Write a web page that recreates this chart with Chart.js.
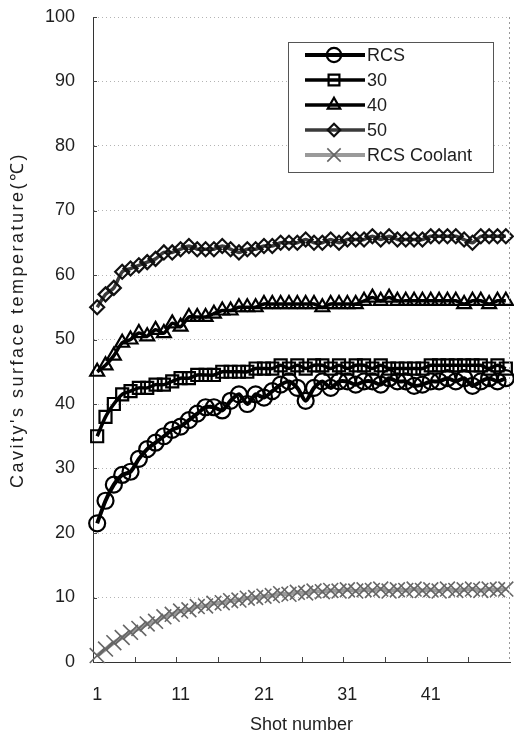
<!DOCTYPE html>
<html>
<head>
<meta charset="utf-8">
<script src="https://cdn.jsdelivr.net/npm/chart.js@4/dist/chart.umd.min.js"></script>
<style>
html,body{margin:0;padding:0;background:#fff;}
#wrap{width:514px;height:740px;}
</style>
</head>
<body>
<div id="wrap"><canvas id="c" width="514" height="740"></canvas></div>
<script>
const shots = Array.from({length: 50}, (_, i) => String(i + 1));
const xTickLabels = ['1', '11', '21', '31', '41'];
const yTicks = [0, 10, 20, 30, 40, 50, 60, 70, 80, 90, 100];
const seriesNames = ['RCS', '30', '40', '50', 'RCS Coolant'];
const yTitle = "Cavity's surface temperature(\u2103)";
const xTitle = 'Shot number';

const rcs = [21.5, 25, 27.5, 29, 29.5, 31.5, 33, 34, 35, 36,
  36.5, 37.5, 38.5, 39.5, 39.5, 39, 40.5, 41.5, 40, 41.5,
  41, 42, 43, 43.5, 42.5, 40.5, 42.5, 43.5, 42.5, 43.5,
  43.5, 43, 43.5, 43.5, 43, 44, 43.5, 43.5, 42.8, 43,
  43.5, 43.5, 44, 43.5, 44, 42.8, 43.5, 44, 43.5, 44];
const t30 = [35, 38, 40, 41.5, 42, 42.5, 42.5, 43, 43, 43.5,
  44, 44, 44.5, 44.5, 44.5, 45, 45, 45, 45, 45.5,
  45.5, 45.5, 46, 45.5, 46, 45.5, 46, 46, 45.5, 46,
  45.5, 46, 46, 45.5, 46, 45.5, 45.5, 45.5, 45.5, 45.5,
  46, 46, 46, 46, 46, 46, 46, 45.5, 46, 45.5];
const t40 = [45, 46, 47.5, 49.5, 50, 51, 50.5, 51.5, 51, 52.5,
  52, 53.5, 53.5, 53.5, 54, 54.5, 54.5, 55, 55, 55,
  55.5, 55.5, 55.5, 55.5, 55.5, 55.5, 55.5, 55, 55.5, 55.5,
  55.5, 55.5, 56, 56.5, 56, 56.5, 56, 56, 56, 56,
  56, 56, 56, 56, 55.5, 56, 56, 55.5, 56, 56];
const t50 = [55, 57, 58, 60.5, 61, 61.5, 62, 62.5, 63.5, 63.5,
  64, 64.5, 64, 64, 64, 64.5, 64, 63.5, 64, 64,
  64.5, 64.5, 65, 65, 65, 65.5, 65, 65, 65.5, 65,
  65.5, 65.5, 65.5, 66, 65.5, 66, 65.5, 65.5, 65.5, 65.5,
  66, 66, 66, 66, 65.5, 65, 66, 66, 66, 66];
const coolant = [1, 2, 3, 3.8, 4.6, 5.2, 5.9, 6.3, 7, 7.4,
  7.9, 8.1, 8.6, 8.7, 9.1, 9.2, 9.5, 9.6, 9.9, 10,
  10.2, 10.3, 10.6, 10.5, 10.8, 10.7, 11, 10.9, 11.1, 11,
  11.2, 11, 11.2, 11.1, 11.3, 11, 11.2, 11.1, 11.3, 11.1,
  11.2, 11, 11.3, 11.1, 11.2, 11.3, 11.1, 11.3, 11.2, 11.3];

const FONT = {family: '"Liberation Sans", Arial, Helvetica, sans-serif', size: 18};
const TXT = '#1e1e1e';
const NONE = 'rgba(0,0,0,0)';

function ds(label, data, lineColor, lw, ptColor, style, r, pbw) {
  return {
    label, data,
    borderColor: lineColor, borderWidth: lw,
    pointStyle: style, pointRadius: r, pointHoverRadius: r,
    pointBorderColor: ptColor, pointBackgroundColor: NONE, pointBorderWidth: pbw,
    backgroundColor: NONE, fill: false, tension: 0.25, clip: false
  };
}

const datasets = [
  ds(seriesNames[0], rcs, '#000', 4, '#000', 'circle', 8, 2.2),
  ds(seriesNames[1], t30, '#000', 3.5, '#000', 'rect', 8.5, 2.2),
  ds(seriesNames[2], t40, '#000', 3.5, '#000', 'triangle', 8, 2.2),
  ds(seriesNames[3], t50, '#3a3a3a', 3.5, '#111', 'rectRot', 7, 2.2),
  ds(seriesNames[4], coolant, '#9a9a9a', 4, '#666', 'crossRot', 10.5, 1.6)
];

const extras = {
  id: 'extras',
  afterDraw(chart) {
    const {ctx, chartArea: a, scales: {x, y}} = chart;
    ctx.save();
    // dotted right border
    ctx.strokeStyle = '#999';
    ctx.lineWidth = 1;
    ctx.setLineDash([2, 3]);
    ctx.beginPath();
    ctx.moveTo(a.right - 0.5, a.top);
    ctx.lineTo(a.right - 0.5, a.bottom);
    ctx.stroke();
    ctx.setLineDash([]);
    // inward ticks on y axis
    ctx.strokeStyle = '#444';
    yTicks.forEach(v => {
      const py = Math.round(y.getPixelForValue(v)) + 0.5;
      ctx.beginPath();
      ctx.moveTo(a.left, py);
      ctx.lineTo(a.left + 4, py);
      ctx.stroke();
    });
    // inward ticks on x axis every 5 shots
    const step = x.getPixelForValue(1) - x.getPixelForValue(0);
    for (let i = 0; i < shots.length; i += 5) {
      const px = Math.round(x.getPixelForValue(i) - step / 2) + 0.5;
      if (px <= a.left + 1) continue;
      ctx.beginPath();
      ctx.moveTo(px, a.bottom);
      ctx.lineTo(px, a.bottom - 5);
      ctx.stroke();
    }
    // y-axis title (letter-spaced, as in the scan)
    ctx.save();
    ctx.translate(18, 320);
    ctx.rotate(-Math.PI / 2);
    ctx.fillStyle = TXT;
    ctx.font = FONT.size + 'px ' + FONT.family;
    if ('letterSpacing' in ctx) ctx.letterSpacing = '2.5px';
    ctx.textAlign = 'center';
    ctx.textBaseline = 'middle';
    ctx.fillText(yTitle, 0, 0);
    ctx.restore();
    // legend
    const bx = 288, by = 42, bw = 205, bh = 130;
    ctx.fillStyle = '#fff';
    ctx.fillRect(bx, by, bw, bh);
    ctx.strokeStyle = '#555';
    ctx.lineWidth = 1;
    ctx.strokeRect(bx + 0.5, by + 0.5, bw, bh);
    const rowY = [55, 80, 105, 130, 155];
    const helpers = Chart.helpers;
    chart.data.datasets.forEach((d, i) => {
      const yy = rowY[i];
      ctx.strokeStyle = d.borderColor;
      ctx.lineWidth = d.borderWidth;
      ctx.beginPath();
      ctx.moveTo(305, yy);
      ctx.lineTo(365, yy);
      ctx.stroke();
      ctx.strokeStyle = d.pointBorderColor;
      ctx.fillStyle = NONE;
      ctx.lineWidth = d.pointBorderWidth;
      if (helpers && helpers.drawPoint) {
        helpers.drawPoint(ctx, {pointStyle: d.pointStyle, radius: d.pointRadius * 0.9, rotation: 0, borderWidth: d.pointBorderWidth}, 334, yy);
      }
      ctx.fillStyle = TXT;
      ctx.font = FONT.size + 'px ' + FONT.family;
      ctx.textAlign = 'left';
      ctx.textBaseline = 'middle';
      ctx.fillText(d.label, 367, yy + 1);
    });
    ctx.restore();
  }
};

new Chart(document.getElementById('c'), {
  type: 'line',
  data: {labels: shots, datasets},
  plugins: [extras],
  options: {
    responsive: false,
    animation: false,
    events: [],
    layout: {autoPadding: false, padding: {top: 17, right: 4, left: 0, bottom: 0}},
    plugins: {legend: {display: false}, tooltip: {enabled: false}},
    scales: {
      x: {
        type: 'category',
        offset: true,
        grid: {display: false, drawTicks: false},
        border: {display: true, color: '#333', width: 1},
        ticks: {
          autoSkip: false, maxRotation: 0, padding: 22, color: TXT, font: FONT,
          callback: function (v, i) { const l = shots[i]; return xTickLabels.includes(l) ? l : ''; }
        },
        title: {display: true, text: xTitle, color: TXT, font: FONT, padding: {top: 0, bottom: 4}},
        afterFit(s) { s.height = 78; s.paddingLeft = 0; s.paddingRight = 0; }
      },
      y: {
        min: 0, max: 100,
        grid: {color: '#b4b4b4', lineWidth: 1, drawTicks: false},
        border: {display: true, color: '#333', width: 1, dash: [1, 3]},
        ticks: {stepSize: 10, padding: 18, color: TXT, font: FONT},
        title: {display: false, text: yTitle},
        afterFit(s) { s.width = 93; s.paddingTop = 0; s.paddingBottom = 0; }
      }
    }
  }
});
</script>
</body>
</html>
